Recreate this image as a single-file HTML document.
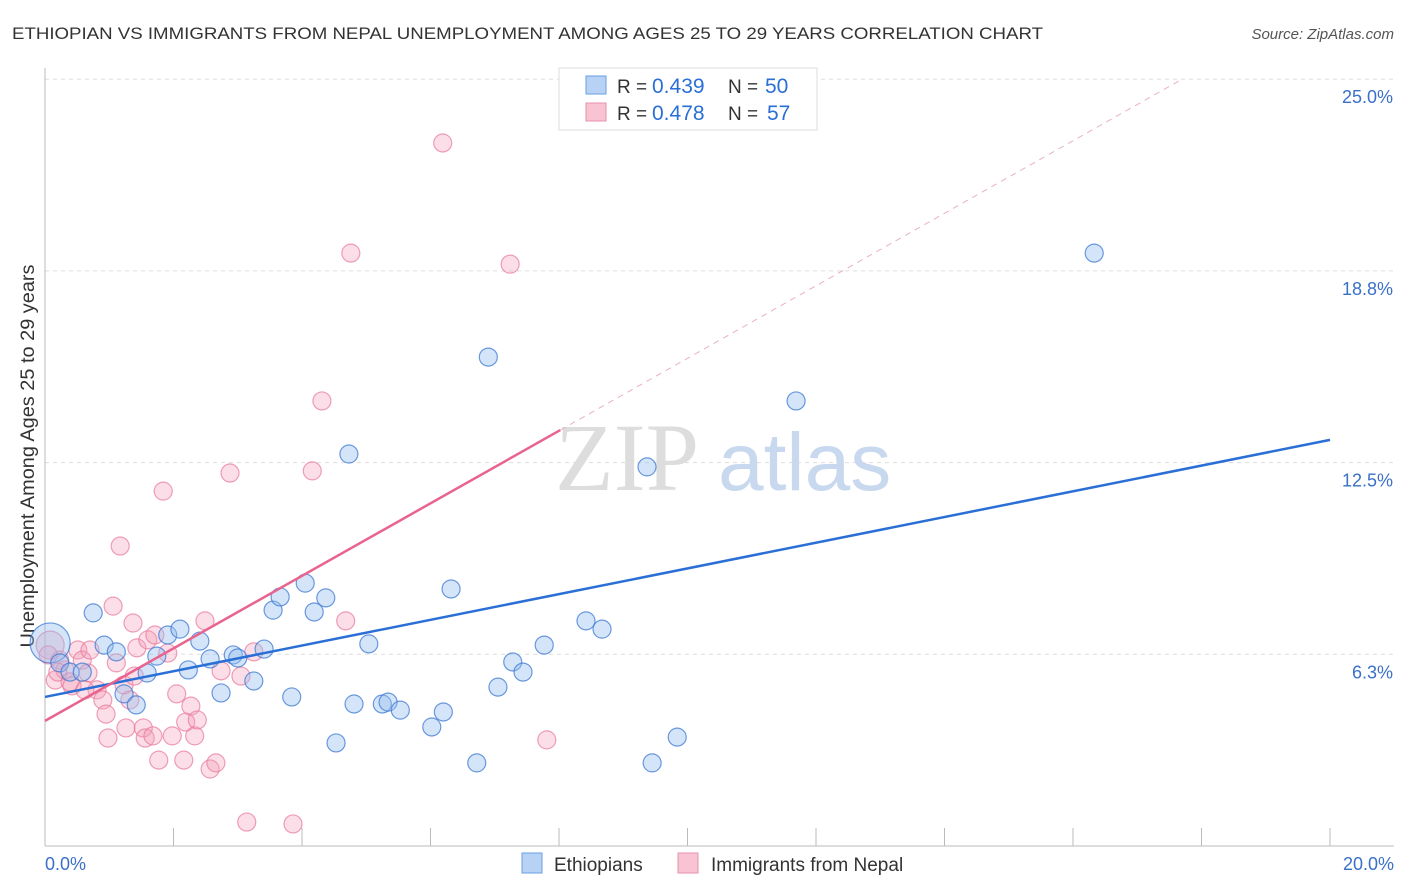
<!DOCTYPE html>
<html><head><meta charset="utf-8"><style>
body{margin:0;background:#fff;font-family:"Liberation Sans",sans-serif}
#c{position:absolute;left:0;top:0}
</style></head><body>
<svg id="c" width="1406" height="892" xmlns="http://www.w3.org/2000/svg"></svg>
<script>
const blueX=[0.08,0.23,0.39,0.58,0.75,0.92,1.11,1.23,1.42,1.59,1.74,1.91,2.10,2.23,2.41,2.57,2.74,2.93,3.00,3.25,3.41,3.55,3.66,3.84,4.05,4.19,4.37,4.53,4.73,4.81,5.04,5.25,5.34,5.53,6.02,6.20,6.32,6.72,6.90,7.05,7.28,7.44,7.77,8.42,8.67,9.37,9.45,9.84,11.69,16.33];
const blueY=[6.62,5.97,5.67,5.67,7.60,6.55,6.33,4.96,4.60,5.64,6.19,6.88,7.07,5.74,6.68,6.10,4.99,6.23,6.13,5.38,6.42,7.69,8.12,4.86,8.57,7.63,8.09,3.36,12.78,4.63,6.59,4.63,4.69,4.43,3.88,4.37,8.38,2.71,15.94,5.18,6.00,5.67,6.55,7.34,7.07,12.36,2.71,3.55,14.51,19.33];
const pinkX=[0.08,0.16,0.23,0.31,0.42,0.51,0.58,0.67,0.70,0.81,0.90,0.95,0.98,1.06,1.11,1.17,1.23,1.26,1.37,1.39,1.43,1.53,1.56,1.60,1.68,1.71,1.77,1.84,1.91,1.98,2.05,2.16,2.19,2.27,2.33,2.37,2.49,2.57,2.66,2.74,2.88,3.05,3.25,3.14,3.86,4.16,4.31,4.68,4.76,6.19,7.24,7.81,0.05,0.20,0.39,0.62,1.32];
const pinkY=[6.55,5.41,6.06,5.74,5.22,6.39,6.06,5.64,6.39,5.09,4.76,4.30,3.52,7.82,5.97,9.78,5.25,3.85,7.27,5.54,6.46,3.85,3.52,6.72,3.59,6.88,2.80,11.57,6.29,3.59,4.96,2.80,4.04,4.56,3.59,4.11,7.34,2.51,2.71,5.71,12.16,5.54,6.33,0.78,0.72,12.23,14.51,7.34,19.33,22.92,18.97,3.46,6.23,5.67,5.35,5.09,4.76];
const yTicks=[6.25,12.5,18.75,25];
const yTickLabels=["6.3%","12.5%","18.8%","25.0%"];
const blueTrend=[4.86,13.24];
const pinkTrend=[4.08,1.182];
const NS="http://www.w3.org/2000/svg",svg=document.getElementById('c');
const X=v=>45+v/20*1285, Y=v=>846-v/6.25*191.7;
function el(t,a,p){const e=document.createElementNS(NS,t);for(const k in a)e.setAttribute(k,a[k]);(p||svg).appendChild(e);return e}
function txt(s,a,p){const e=el('text',a,p);e.textContent=s;return e}
let t=txt("ETHIOPIAN VS IMMIGRANTS FROM NEPAL UNEMPLOYMENT AMONG AGES 25 TO 29 YEARS CORRELATION CHART",{x:12,y:39,'font-size':17,fill:'#333',textLength:1031,lengthAdjust:'spacingAndGlyphs'});

t=txt("Source: ZipAtlas.com",{x:1394,y:39,'font-size':15,fill:'#555','text-anchor':'end','font-style':'italic'});

yTicks.forEach((v,i)=>{
 let g=el('line',{x1:45,x2:1394,y1:Y(v),y2:Y(v),stroke:'#ddd','stroke-dasharray':'4,4'});
 
 let l=txt(yTickLabels[i],{x:1393,y:Y(v)+24,'font-size':18,fill:'#3a70c8','text-anchor':'end'});
 
});
let ax=el('line',{x1:45,x2:45,y1:68,y2:846,stroke:'#bbb'});
ax=el('line',{x1:45,x2:1394,y1:846,y2:846,stroke:'#bbb'});
for(let i=1;i<=10;i++){let k=el('line',{x1:X(i*2),x2:X(i*2),y1:828,y2:846,stroke:'#bbb'});}
t=txt("0.0%",{x:45,y:870,'font-size':18,fill:'#3a70c8'});
t=txt("20.0%",{x:1394,y:870,'font-size':18,fill:'#3a70c8','text-anchor':'end'});
t=txt("Unemployment Among Ages 25 to 29 years",{x:0,y:0,'font-size':19,fill:'#333','text-anchor':'middle',textLength:383,lengthAdjust:'spacingAndGlyphs',transform:'translate(34,456) rotate(-90)'});

t=txt("ZIP",{x:555,y:490,'font-size':96,fill:'#ddd','font-family':'Liberation Serif'});
t=txt("atlas",{x:718,y:490,'font-size':82,fill:'#c8d8ee'});
pinkX.forEach((x,i)=>{let c=el('circle',{cx:X(x),cy:Y(pinkY[i]),r:i==0?14:9,fill:'rgba(244,160,185,0.35)',stroke:'rgba(232,120,155,0.7)','stroke-width':1.2});
 });
blueX.forEach((x,i)=>{let c=el('circle',{cx:X(x),cy:Y(blueY[i]),r:i==0?20:9,fill:'rgba(150,190,240,0.4)',stroke:'rgba(60,120,210,0.75)','stroke-width':1.2});
 });
let ln=el('line',{x1:X(0),y1:Y(blueTrend[0]),x2:X(20),y2:Y(blueTrend[1]),stroke:'#2a6fd6','stroke-width':2.5});

const pf=x=>pinkTrend[0]+pinkTrend[1]*x;
ln=el('line',{x1:X(0),y1:Y(pf(0)),x2:X(8.02),y2:Y(pf(8.02)),stroke:'#e8648e','stroke-width':2.5});

ln=el('line',{x1:X(8.02),y1:Y(pf(8.02)),x2:X(17.7),y2:Y(pf(17.7)),stroke:'#eab0c2','stroke-width':1,'stroke-dasharray':'6,5'});

let lg=el('g',{});
el('rect',{x:559,y:68,width:258,height:62,fill:'#fff',stroke:'#ddd'},lg);
el('rect',{x:586,y:76,width:20,height:18,fill:'#b8d2f6',stroke:'#6a9ee0'},lg);
el('rect',{x:586,y:103,width:20,height:18,fill:'#f8c4d4',stroke:'#e890ab'},lg);
[["0.439","50",93,765],["0.478","57",120,767]].forEach(r=>{
 let a=txt("R =",{x:617,y:r[2],'font-size':19,fill:'#333'},lg);
 a=txt(r[0],{x:652,y:r[2],'font-size':21,fill:'#2a6fd6'},lg);
 a=txt("N =",{x:728,y:r[2],'font-size':19,fill:'#333'},lg);
 a=txt(r[1],{x:r[3],y:r[2],'font-size':21,fill:'#2a6fd6'},lg);
});
let b=el('g',{});
el('rect',{x:522,y:853,width:20,height:20,fill:'#b8d2f6',stroke:'#6a9ee0'},b);
el('rect',{x:678,y:853,width:20,height:20,fill:'#f8c4d4',stroke:'#e890ab'},b);
t=txt('Ethiopians',{x:554,y:871,'font-size':19,fill:'#333'},b);
t=txt('Immigrants from Nepal',{x:711,y:871,'font-size':19,fill:'#333'},b);
</script>
</body></html>
